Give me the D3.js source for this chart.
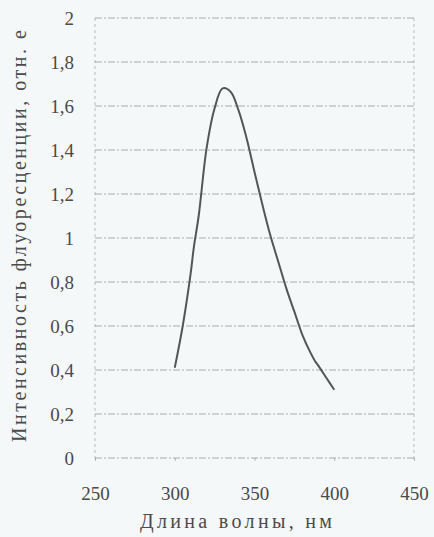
<!DOCTYPE html>
<html><head><meta charset="utf-8">
<script src="https://cdn.jsdelivr.net/npm/d3@7"></script>
<style>
html,body{margin:0;padding:0;background:#f5f8f9;}
svg{display:block;}
text{font-family:"Liberation Serif","Times New Roman",Tinos,"DejaVu Serif","Noto Serif",serif;fill:#4a4a4a;}
</style></head>
<body>
<svg id="c" width="434" height="537"></svg>
<script>
const wavelength = [300,305,310,312,315,320,325,330,335,340,345,350,355,360,365,370,375,380,385,388,390,395,400];
const intensity  = [0.41,0.60,0.84,0.96,1.10,1.41,1.59,1.68,1.665,1.58,1.455,1.30,1.15,1.01,0.89,0.77,0.665,0.56,0.48,0.44,0.42,0.365,0.31];
const xTicks = [250,300,350,400,450];
const yTicks = [0,0.2,0.4,0.6,0.8,1,1.2,1.4,1.6,1.8,2];
const xTitle = "Длина волны, нм";
const yTitle = "Интенсивность флуоресценции, отн. е";

const FONT = '"Liberation Serif","Times New Roman",Tinos,"DejaVu Serif","Noto Serif",serif';
const svg = d3.select("#c");
const x = d3.scaleLinear().domain([250,450]).range([95,414]);
const y = d3.scaleLinear().domain([0,2]).range([458,18]);
const fmt = d => String(d).replace(".", ",");
const gridColor = "#8a8a8a";

svg.append("g").selectAll("line").data(yTicks).join("line")
  .attr("x1", x(250)).attr("x2", x(450))
  .attr("y1", d => y(d)).attr("y2", d => y(d))
  .attr("stroke", gridColor).attr("stroke-width", 1)
  .attr("stroke-dasharray", "7,2,2,2").attr("opacity", 0.7);

svg.append("g").selectAll("line").data([250,450]).join("line")
  .attr("x1", d => x(d)).attr("x2", d => x(d))
  .attr("y1", y(2)).attr("y2", y(0) + 3)
  .attr("stroke", gridColor).attr("stroke-width", 1)
  .attr("stroke-dasharray", "3,3").attr("opacity", 0.55);

const xAxis = svg.append("g").attr("transform", `translate(0,${y(0)})`)
  .call(d3.axisBottom(x).tickValues(xTicks).tickSize(3).tickFormat(d => d));
xAxis.select(".domain").remove();
xAxis.selectAll(".tick line").attr("stroke", gridColor).attr("opacity", 0.6);
xAxis.selectAll(".tick text").attr("font-size", 19).attr("y", 0).attr("dy", 42)
  .attr("fill", "#4a4a4a").attr("font-family", FONT);

const yAxis = svg.append("g").attr("transform", `translate(${x(250)},0)`)
  .call(d3.axisLeft(y).tickValues(yTicks).tickSize(0).tickFormat(fmt));
yAxis.select(".domain").remove();
yAxis.selectAll(".tick text").attr("font-size", 19).attr("x", -21).attr("dy", "0.33em")
  .attr("fill", "#4a4a4a").attr("font-family", FONT);

const pts = wavelength.map((w,i) => [w, intensity[i]]);
svg.append("path").datum(pts)
  .attr("fill", "none").attr("stroke", "#555").attr("stroke-width", 2)
  .attr("stroke-linejoin", "round")
  .attr("d", d3.line().x(d => x(d[0])).y(d => y(d[1])).curve(d3.curveCatmullRom.alpha(0.5)));

svg.append("text").attr("x", 236).attr("y", 528).attr("text-anchor", "middle")
  .attr("font-family", FONT).attr("font-size", 20).attr("textLength", 192).attr("lengthAdjust", "spacing").text(xTitle);
svg.append("text").attr("transform", "translate(26,236) rotate(-90)").attr("text-anchor", "middle")
  .attr("font-family", FONT).attr("font-size", 20).attr("textLength", 412).attr("lengthAdjust", "spacing").text(yTitle);
</script>
</body></html>
